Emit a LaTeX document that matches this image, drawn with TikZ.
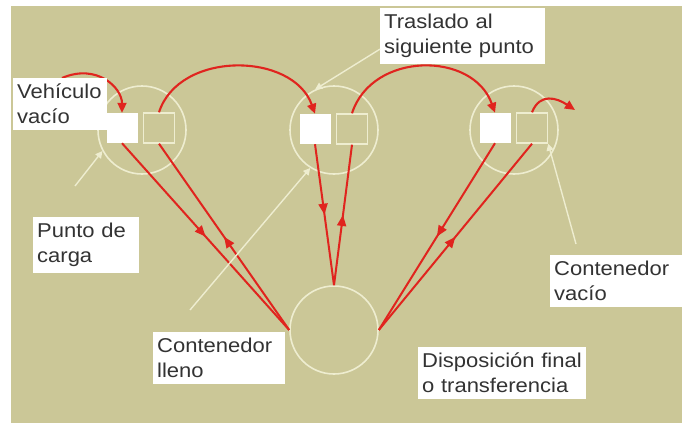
\documentclass[tikz,border=0pt]{standalone}
\usepackage{fontspec}
\setmainfont{Liberation Sans}[FakeStretch=1.1]
\usetikzlibrary{arrows.meta,decorations.markings}
\definecolor{khaki}{RGB}{203,199,151}
\definecolor{linered}{RGB}{224,36,30}
\definecolor{cream}{RGB}{238,237,208}
\begin{document}
\begin{tikzpicture}[x=1pt,y=-1pt,
    station/.style={circle, draw=cream, line width=1.6pt, minimum size=88pt, inner sep=0pt},
    full/.style={rectangle, fill=white, minimum width=31pt, minimum height=30pt, inner sep=0pt},
    empty/.style={rectangle, draw=cream, line width=1.4pt, minimum width=31pt, minimum height=30pt, inner sep=0pt},
    callout/.style={fill=white, anchor=north west, align=left, inner xsep=4pt, inner ysep=6pt,
      text=black!80, font=\fontsize{20}{25}\selectfont},
    trip/.style={color=linered, line width=2.1pt, -{Triangle[length=10pt,width=9pt]}},
    haul/.style={color=linered, line width=2pt, postaction={decorate},
      decoration={markings, mark=at position 0.5 with {\arrow{Triangle[length=11pt,width=9pt]}}}},
    leader/.style={draw=cream, line width=1.4pt, -{Triangle[length=7pt,width=7pt]}}]
      \fill[white] (0,0) rectangle (682,423);
      \fill[khaki] (11,6) rectangle (682,423);
      \useasboundingbox (0,0) rectangle (682,423);

      \node[station] (lc) at (142,130) {};
      \node[station] (mc) at (334,130) {};
      \node[station] (rc) at (514,130) {};
      \node[station] (dc) at (334,330) {};

      \node[full] (lf) at (122,128) {};
      \node[empty] (le) at (159,128) {};
      \node[full] (mf) at (315,129) {};
      \node[empty] (me) at (352,129) {};
      \node[full] (rf) at (495,128) {};
      \node[empty] (re) at (532,128) {};

      \coordinate (prevpt) at (62,78);
      \coordinate (nextpt) at (575,110);
      \coordinate (pcend) at (75,186);
      \coordinate (clend) at (190,310);
      \coordinate (cvend) at (576,244);

      \draw[trip] (prevpt) .. controls +(35,-15) and +(0,-25) .. (lf.north);
      \draw[trip] (le.north) .. controls +(20,-62) and +(-22,-62) .. (mf.north);
      \draw[trip] (me.north) .. controls +(20,-62) and +(-22,-62) .. (rf.north);
      \draw[trip] (re.north) .. controls +(8,-20) and +(-18,-12) .. (nextpt);

      \draw[haul] (lf.south) -- (dc.west);
      \draw[haul] (dc.west) -- (le.south);
      \draw[haul] (mf.south) -- (dc.north);
      \draw[haul] (dc.north) -- (me.south);
      \draw[haul] (rf.south) -- (dc.east);
      \draw[haul] (dc.east) -- (re.south);

      \node[callout, text width=86pt] (vv) at (13,78) {Vehículo\\vacío};
      \node[callout, text width=157pt] (tr) at (380,8) {Traslado al\\siguiente punto};
      \node[callout, text width=98pt] (pc) at (33,217) {Punto de\\carga};
      \node[callout, text width=124pt] (cl) at (153,332) {Contenedor\\lleno};
      \node[callout, text width=124pt] (cv) at (550,255) {Contenedor\\vacío};
      \node[callout, text width=160pt] (dp) at (418,347) {Disposición final\\o transferencia};

      \draw[leader] (tr.189) -- (mc.115);
      \draw[leader] (pcend) -- (lc.208);
      \draw[leader] (clend) -- (mc.238);
      \draw[leader] (cvend) -- (re.south east);
    \end{tikzpicture}
\end{document}
